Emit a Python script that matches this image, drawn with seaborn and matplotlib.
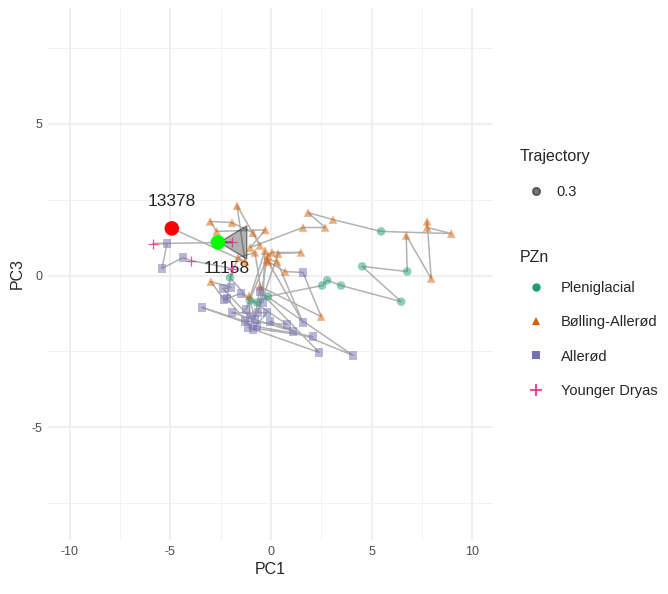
import matplotlib
matplotlib.use("Agg")
import matplotlib.pyplot as plt
from matplotlib.lines import Line2D
import pandas as pd
import seaborn as sns

# ── Data ──────────────────────────────────────────────────────────────────────
# samples in trajectory order
pc1 = [-1.29, -1.69, -0.55, -0.90, -1.94, -3.03, -2.70, -0.28, -1.04, 1.59,
       2.69, 1.84, 3.08, 5.47, 8.96, 7.76, 7.76, 7.96, 6.72, 6.77,
       4.53, 6.47, 3.48, 2.79, 2.54, -0.15, -0.70, -1.04, -2.04, -1.64,
       -0.80, -0.40, -0.30, -1.24, -0.15, 0.05, 1.49, 0.35, -0.65, -0.20,
       0.30, 1.59, -0.15, 0.70, 1.59, 2.49, -0.55, -0.80, -1.09, -1.04,
       -2.39, -1.99, -2.99, -2.34, -1.49, 0.80, -1.29, -3.43, -0.70, 2.09,
       -1.14, 2.39, -0.55, 4.08, -0.05, 1.09, -1.94, -0.20, -0.90, -2.19,
       -1.94, -3.98, -4.38, -5.42, -5.17, -5.87, -1.94]
pc3 = [0.46, 2.30, 0.99, 1.41, 1.74, 1.78, 1.45, 1.50, 0.92, 1.58,
       1.58, 2.07, 1.84, 1.45, 1.38, 1.58, 1.78, -0.10, 1.32, 0.13,
       0.30, -0.86, -0.33, -0.16, -0.33, -0.69, -0.89, -0.82, -0.07, 0.59,
       0.76, -0.89, 0.82, -1.12, 0.66, 0.76, 0.76, 0.72, -1.22, 0.53,
       0.46, -1.55, 0.46, 0.13, 0.10, -1.35, -0.36, -1.45, -0.66, -1.38,
       -0.43, -0.39, -0.20, -0.79, -0.59, -1.61, -1.51, -1.05, -1.68, -2.01,
       -1.71, -2.53, -0.53, -2.63, -1.51, -1.84, -1.22, -1.22, -1.78, -0.76,
       0.23, 0.49, 0.59, 0.23, 1.05, 1.05, 1.09]
zone = (["Bølling-Allerød"] * 13 + ["Pleniglacial"] + ["Bølling-Allerød"] * 5
        + ["Pleniglacial"] * 10
        + ["Bølling-Allerød", "Bølling-Allerød", "Allerød", "Bølling-Allerød", "Allerød",
           "Bølling-Allerød", "Bølling-Allerød", "Bølling-Allerød", "Bølling-Allerød", "Allerød",
           "Bølling-Allerød", "Bølling-Allerød", "Allerød", "Bølling-Allerød", "Bølling-Allerød",
           "Allerød", "Bølling-Allerød", "Bølling-Allerød", "Allerød", "Bølling-Allerød",
           "Allerød", "Allerød", "Allerød", "Bølling-Allerød", "Allerød",
           "Allerød", "Allerød", "Allerød", "Allerød", "Allerød",
           "Allerød", "Allerød", "Allerød", "Allerød", "Allerød",
           "Allerød", "Allerød", "Allerød", "Allerød", "Allerød",
           "Allerød", "Younger Dryas", "Younger Dryas", "Allerød", "Allerød",
           "Allerød", "Younger Dryas", "Younger Dryas"])

# first / last sample of the trajectory
end_pc1 = [-4.93, -2.64]
end_pc3 = [1.55, 1.09]
end_age = ["13378", "11158"]
end_color = ["#FF0000", "#00FF00"]

zone_order = ["Pleniglacial", "Bølling-Allerød", "Allerød", "Younger Dryas"]
zone_colors = ["#1B9E77", "#D95F02", "#7570B3", "#E7298A"]
zone_markers = ["o", "^", "s", "+"]

# ── Frames ────────────────────────────────────────────────────────────────────
df = pd.DataFrame({"PC1": pc1, "PC3": pc3, "PZn": zone})
path = pd.DataFrame({
    "PC1": [end_pc1[0]] + pc1 + [end_pc1[1]],
    "PC3": [end_pc3[0]] + pc3 + [end_pc3[1]],
})

# ── Plot ──────────────────────────────────────────────────────────────────────
sns.set_theme(style="white")
plt.rcParams["font.family"] = ["Liberation Sans", "DejaVu Sans"]
plt.rcParams["axes.unicode_minus"] = False

fig = plt.figure(figsize=(6.68, 5.94), dpi=100)
ax = fig.add_axes([0.072, 0.091, 0.665, 0.8955])

# trajectory
sns.lineplot(data=path, x="PC1", y="PC3", sort=False, estimator=None,
             color="black", alpha=0.3, linewidth=1.1, ax=ax, zorder=2)
ax.annotate("", xy=(path["PC1"].iloc[-1], path["PC3"].iloc[-1]),
            xytext=(path["PC1"].iloc[-2], path["PC3"].iloc[-2]),
            arrowprops=dict(arrowstyle="-|>,head_length=0.45,head_width=0.27",
                            mutation_scale=44, shrinkA=0, shrinkB=0,
                            facecolor=(0, 0, 0, 0.3), edgecolor=(0, 0, 0, 0.45),
                            linewidth=1.0), zorder=3)

# samples
filled = df[df["PZn"] != "Younger Dryas"]
sns.scatterplot(data=filled, x="PC1", y="PC3", hue="PZn", style="PZn",
                hue_order=zone_order[:3], style_order=zone_order[:3],
                palette=zone_colors[:3], markers=zone_markers[:3],
                s=38, alpha=0.5, linewidth=0, legend=False, ax=ax, zorder=4)
yd = df[df["PZn"] == "Younger Dryas"]
sns.scatterplot(data=yd, x="PC1", y="PC3", color=zone_colors[3], marker="+",
                s=55, linewidth=0.9, alpha=0.8, legend=False, ax=ax, zorder=4)

# start / end highlights
ax.scatter(end_pc1, end_pc3, c=end_color, s=110, linewidths=0, zorder=5)
ax.annotate(end_age[0], (end_pc1[0], end_pc3[0]), xytext=(0, 19.5),
            textcoords="offset points", ha="center", va="center", fontsize=12.5)
ax.annotate(end_age[1], (end_pc1[1], end_pc3[1]), xytext=(6, -18.5),
            textcoords="offset points", ha="center", va="center", fontsize=12.5)

# axes styling (theme_minimal look)
ax.set_xlim(-11.08, 11.0)
ax.set_ylim(-8.7, 8.8)
ax.set_xticks([-10, -5, 0, 5, 10])
ax.set_yticks([-5, 0, 5])
ax.set_xticks([-7.5, -2.5, 2.5, 7.5], minor=True)
ax.set_yticks([-7.5, -2.5, 2.5, 7.5], minor=True)
ax.grid(which="major", color="#EBEBEB", linewidth=1.1)
ax.grid(which="minor", color="#F2F2F2", linewidth=0.7)
ax.set_axisbelow(True)
for spine in ax.spines.values():
    spine.set_visible(False)
ax.tick_params(which="both", length=0, labelsize=9, labelcolor="#4D4D4D", pad=4)
ax.set_xlabel("PC1", fontsize=11.5, labelpad=3)
ax.set_ylabel("PC3", fontsize=11.5, labelpad=5)

# legends
fig.text(520 / 668, 1 - 157 / 594, "Trajectory", fontsize=11.5,
         ha="left", va="center")
traj_handles = [Line2D([], [], marker="o", linestyle="", color="black", alpha=0.55,
                       markersize=5.5)]
leg1 = fig.legend(traj_handles, ["0.3"], loc="center left",
                  bbox_to_anchor=(0.768, 1 - 192 / 594), frameon=False, fontsize=10.5,
                  handlelength=2.4, handletextpad=0.15, borderaxespad=0)

fig.text(520 / 668, 1 - 258 / 594, "PZn", fontsize=11.5, ha="left", va="center")
zone_handles = []
for name, col, mk in zip(zone_order, zone_colors, zone_markers):
    zone_handles.append(Line2D([], [], marker=mk, linestyle="", color=col,
                               markersize=6 if mk != "+" else 8,
                               markeredgewidth=0 if mk != "+" else 1.2))
leg2 = fig.legend(zone_handles, zone_order, loc="center left",
                  bbox_to_anchor=(0.768, 1 - 339.5 / 594), frameon=False, fontsize=10.5,
                  handlelength=2.4, handletextpad=0.5, labelspacing=1.38,
                  borderaxespad=0)

fig.savefig("out.png", dpi=100)
